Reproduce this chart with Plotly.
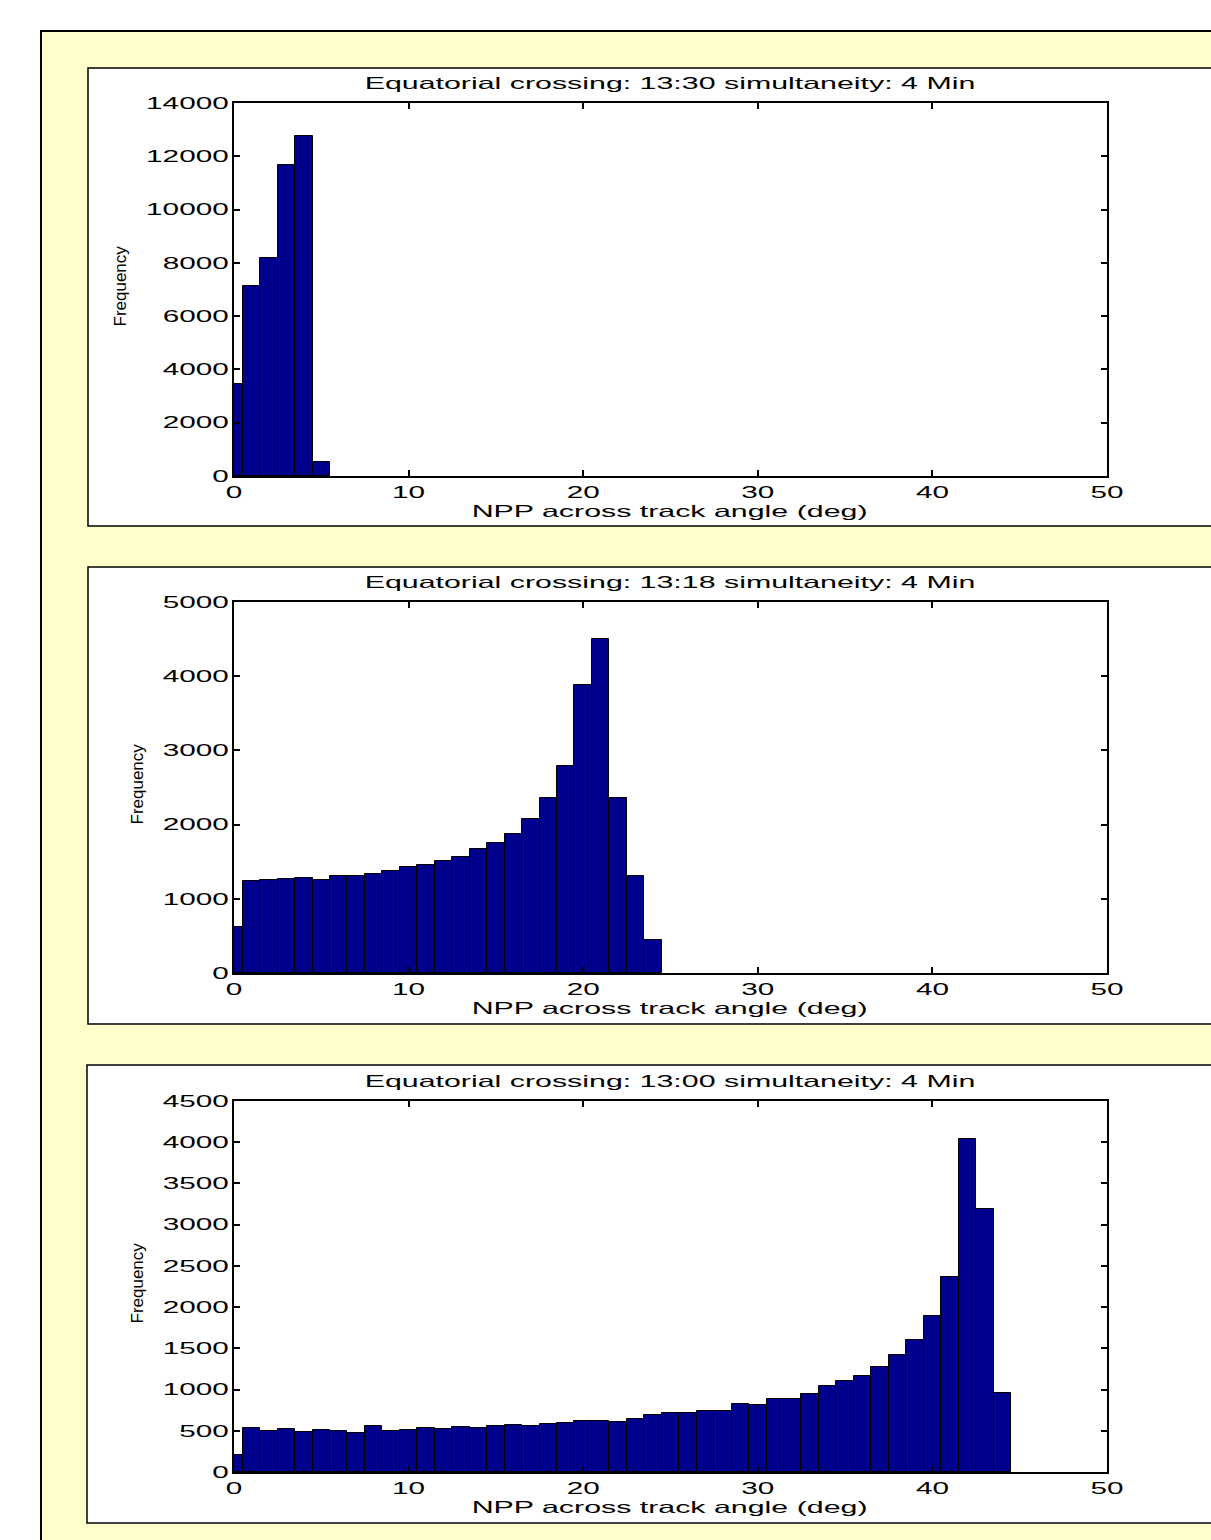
import plotly.graph_objects as go

W, H = 1211, 1540

# ---------------- data ----------------
titles = [
    "Equatorial crossing: 13:30 simultaneity: 4 Min",
    "Equatorial crossing: 13:18 simultaneity: 4 Min",
    "Equatorial crossing: 13:00 simultaneity: 4 Min",
]
x_title = "NPP across track angle (deg)"
y_title = "Frequency"

counts_1330 = [3450, 7130, 8170, 11680, 12770, 540]
counts_1318 = [620, 1240, 1260, 1267, 1286, 1260, 1303, 1313, 1330, 1375,
               1434, 1456, 1510, 1564, 1672, 1748, 1879, 2072, 2355, 2786,
               3882, 4498, 2355, 1303, 450]
counts_1300 = [203, 531, 494, 522, 486, 506, 498, 474, 555, 494,
               515, 534, 522, 546, 531, 555, 570, 558, 583, 595,
               619, 619, 612, 648, 688, 712, 721, 745, 737, 822,
               813, 882, 888, 952, 1044, 1105, 1165, 1275, 1425, 1607,
               1894, 2367, 4042, 3185, 964]
all_counts = [counts_1330, counts_1318, counts_1300]

x_ticks = [0, 10, 20, 30, 40, 50]
y_ticks_1330 = [0, 2000, 4000, 6000, 8000, 10000, 12000, 14000]
y_ticks_1318 = [0, 1000, 2000, 3000, 4000, 5000]
y_ticks_1300 = [0, 500, 1000, 1500, 2000, 2500, 3000, 3500, 4000, 4500]
all_yticks = [y_ticks_1330, y_ticks_1318, y_ticks_1300]

# ---------------- layout helpers ----------------
def px_x(p):
    return p / W

def px_y(p):
    return 1 - p / H

BAR_COLOR = "#00008C"
FONT = "Liberation Sans, Arial, Helvetica"
TICK_SIZE = 16.5

ax_x = (234, 1107)
ax_y = [(103, 476), (602, 973), (1101, 1472)]
panels = [(88, 68, 526), (88, 567, 1024), (87, 1065, 1523)]
ylab_x = [120, 137, 137]

fig = go.Figure()
shapes = []
annotations = []

shapes.append(dict(type="rect", xref="paper", yref="paper",
                   x0=px_x(41), x1=px_x(1260), y0=px_y(1600), y1=px_y(31),
                   fillcolor="#FFFFCC", line=dict(color="black", width=2),
                   layer="below"))

for i in range(3):
    n = i + 1
    xa = "x" if n == 1 else f"x{n}"
    ya = "y" if n == 1 else f"y{n}"
    counts = all_counts[i]
    centers = list(range(len(counts)))
    fig.add_trace(go.Bar(
        x=centers, y=counts, width=1.0, xaxis=xa, yaxis=ya,
        marker=dict(color=BAR_COLOR, line=dict(color="black", width=1)),
        showlegend=False, hoverinfo="x+y",
    ))
    top, bot = ax_y[i]
    yt = all_yticks[i]
    fig.update_layout(**{
        ("xaxis" if n == 1 else f"xaxis{n}"): dict(
            domain=[px_x(ax_x[0]), px_x(ax_x[1])], anchor=ya,
            range=[0, 50], tickvals=x_ticks, ticktext=[str(v) for v in x_ticks],
            ticks="inside", ticklen=6, tickwidth=1.5, tickcolor="black",
            showline=True, linewidth=2, linecolor="black", mirror="ticks",
            showgrid=False, zeroline=False, automargin=False,
            tickfont=dict(family=FONT, size=TICK_SIZE, color="black"),
        ),
        ("yaxis" if n == 1 else f"yaxis{n}"): dict(
            domain=[px_y(bot), px_y(top)], anchor=xa,
            range=[0, yt[-1]], tickvals=yt, ticktext=[str(v) for v in yt],
            ticks="inside", ticklen=6, tickwidth=1.5, tickcolor="black",
            showline=True, linewidth=2, linecolor="black", mirror="ticks",
            showgrid=False, zeroline=False, automargin=False,
            tickfont=dict(family=FONT, size=TICK_SIZE, color="black"),
        ),
    })
    px0, ptop, pbot = panels[i]
    shapes.append(dict(type="rect", xref="paper", yref="paper",
                       x0=px_x(px0), x1=px_x(1260), y0=px_y(pbot), y1=px_y(ptop),
                       fillcolor="white", line=dict(color="black", width=1.5),
                       layer="below"))
    annotations.append(dict(text=titles[i], xref="paper", yref="paper",
                            x=px_x(670), y=px_y(top - 20), xanchor="center",
                            yanchor="middle", showarrow=False,
                            font=dict(family=FONT, size=TICK_SIZE, color="black")))
    annotations.append(dict(text=x_title, xref="paper", yref="paper",
                            x=px_x(669), y=px_y(bot + 35), xanchor="center",
                            yanchor="middle", showarrow=False,
                            font=dict(family=FONT, size=TICK_SIZE, color="black")))
    annotations.append(dict(text=y_title, xref="paper", yref="paper",
                            x=px_x(ylab_x[i]), y=px_y((top + bot) / 2 - 3),
                            xanchor="center", yanchor="middle", textangle=-90,
                            showarrow=False,
                            font=dict(family=FONT, size=17, color="black")))

fig.update_layout(
    width=W, height=H, margin=dict(l=0, r=0, t=0, b=0),
    paper_bgcolor="white", plot_bgcolor="white",
    shapes=shapes, annotations=annotations, bargap=0,
    font=dict(family=FONT, color="black"),
)

# The original figure's horizontal text is stretched horizontally; mimic that
post_js = """
document.body.style.margin = '0';
document.body.style.overflow = 'hidden';
var gd = document.querySelector('.plotly-graph-div');
gd.querySelectorAll('text').forEach(function(t) {
  var el = t, rotated = false;
  while (el && el !== gd) {
    var tr0 = el.getAttribute && el.getAttribute('transform');
    if (tr0) {
      var m = /rotate\\((-?[\\d.]+)/.exec(tr0);
      if (m && Math.abs(parseFloat(m[1])) > 0.01) { rotated = true; break; }
    }
    el = el.parentNode;
  }
  if (rotated || !t.textContent) return;
  var S = t.classList.contains('annotation-text') ? 1.84 : 1.8;
  var ax = parseFloat(t.getAttribute('x'));
  if (isNaN(ax)) {
    var bb = t.getBBox();
    var anc = t.getAttribute('text-anchor') || 'start';
    ax = anc === 'middle' ? bb.x + bb.width / 2 : (anc === 'end' ? bb.x + bb.width : bb.x);
  }
  var tr = t.getAttribute('transform') || '';
  t.setAttribute('transform', tr + ' translate(' + ax + ',0) scale(' + S + ',1) translate(' + (-ax) + ',0)');
});
"""

fig.write_html("out.html", post_script=post_js, config={"displayModeBar": False})
